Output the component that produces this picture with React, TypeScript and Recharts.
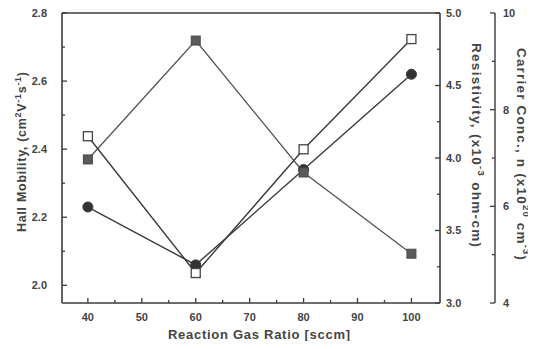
import React from 'react';
import { LineChart, Line, XAxis, YAxis, ReferenceLine } from 'recharts';

const gasRatio = [40, 60, 80, 100];
const hallMobility = [2.23, 2.06, 2.34, 2.62];
const resistivity = [3.99, 4.81, 3.9, 3.34];
const carrierConc = [7.45, 4.62, 7.18, 9.46];

const xTicks = [40, 45, 50, 55, 60, 65, 70, 75, 80, 85, 90, 95, 100];
const xLabels = [40, 50, 60, 70, 80, 90, 100];
const mobilityTicks = [2.0, 2.1, 2.2, 2.3, 2.4, 2.5, 2.6, 2.7, 2.8];
const mobilityLabels = [2.0, 2.2, 2.4, 2.6, 2.8];
const resistivityTicks = [3.0, 3.25, 3.5, 3.75, 4.0, 4.25, 4.5, 4.75, 5.0];
const resistivityLabels = [3.0, 3.5, 4.0, 4.5, 5.0];
const carrierTicks = [4, 5, 6, 7, 8, 9, 10];
const carrierLabels = [4, 6, 8, 10];

const data = gasRatio.map((x, i) => ({
  x,
  mobility: hallMobility[i],
  resistivity: resistivity[i],
  carrier: carrierConc[i],
}));

const INK = '#3c3c3c';
const TXT = '#444';
const FONT = '"Liberation Sans", Arial, sans-serif';
const X_MARGIN = 14;

const isIn = (arr: number[], v: number) => arr.some((a) => Math.abs(a - v) < 1e-6);

const makeYTick = (side: 'left' | 'right', margin: number, labels: number[], digits: number) => (props: any) => {
  const { x, y, payload } = props;
  const v = payload.value;
  const major = isIn(labels, v);
  const len = major ? 5 : 3;
  const axisX = side === 'left' ? x + margin : x - margin;
  const x2 = side === 'left' ? axisX + len : axisX - len;
  return (
    <g>
      <line x1={axisX} x2={x2} y1={y} y2={y} stroke={INK} strokeWidth={1.3} />
      {major && (
        <text x={x} y={y} dy="0.36em" textAnchor={side === 'left' ? 'end' : 'start'} fontSize={11} fontWeight="bold" fill={TXT} fontFamily={FONT}>
          {v.toFixed(digits)}
        </text>
      )}
    </g>
  );
};

const XTick = (props: any) => {
  const { x, y, payload } = props;
  const v = payload.value;
  const major = isIn(xLabels, v);
  const len = major ? 5 : 3;
  const axisY = y - X_MARGIN;
  return (
    <g>
      <line x1={x} x2={x} y1={axisY} y2={axisY - len} stroke={INK} strokeWidth={1.3} />
      {major && (
        <text x={x} y={y} dy="0.36em" textAnchor="middle" fontSize={11} fontWeight="bold" fill={TXT} fontFamily={FONT}>
          {v}
        </text>
      )}
    </g>
  );
};

const LeftTitle = (props: any) => {
  const vb = props.viewBox || { x: 0, y: 5, width: 54, height: 290 };
  const cx = vb.x + 14;
  const cy = vb.y + vb.height / 2 - 6;
  return (
    <text x={cx} y={cy} transform={`rotate(-90, ${cx}, ${cy})`} textAnchor="middle" dominantBaseline="central" fontSize={12.5} fontWeight="bold" fill={TXT} fontFamily={FONT} textLength={160} lengthAdjust="spacing">
      <tspan>Hall Mobility, (cm</tspan>
      <tspan dy={-4} fontSize={9}>2</tspan>
      <tspan dy={4}>V</tspan>
      <tspan dy={-4} fontSize={9}>-1</tspan>
      <tspan dy={4}>s</tspan>
      <tspan dy={-4} fontSize={9}>-1</tspan>
      <tspan dy={4}>)</tspan>
    </text>
  );
};

const ResTitle = (props: any) => {
  const vb = props.viewBox || { x: 432, y: 5, width: 55, height: 290 };
  const cx = vb.x + 37;
  const cy = vb.y + vb.height / 2 - 13;
  return (
    <text x={cx} y={cy} transform={`rotate(90, ${cx}, ${cy})`} textAnchor="middle" dominantBaseline="central" fontSize={13.5} fontWeight="bold" fill={TXT} fontFamily={FONT} textLength={204} lengthAdjust="spacing">
      <tspan>Resistivity, (x10</tspan>
      <tspan dy={-5} fontSize={9.5}>-3</tspan>
      <tspan dy={5}> ohm-cm)</tspan>
    </text>
  );
};

const CarrierTitle = (props: any) => {
  const vb = props.viewBox || { x: 487, y: 5, width: 33, height: 290 };
  const cx = vb.x + 27;
  const cy = vb.y + vb.height / 2 - 4;
  return (
    <text x={cx} y={cy} transform={`rotate(90, ${cx}, ${cy})`} textAnchor="middle" dominantBaseline="central" fontSize={13.5} fontWeight="bold" fill={TXT} fontFamily={FONT} textLength={212} lengthAdjust="spacing">
      <tspan>Carrier Conc., n (x10</tspan>
      <tspan dy={-5} fontSize={9.5}>20</tspan>
      <tspan dy={5}> cm</tspan>
      <tspan dy={-5} fontSize={9.5}>-3</tspan>
      <tspan dy={5}>)</tspan>
    </text>
  );
};

const XTitle = (props: any) => {
  const vb = props.viewBox || { x: 54, y: 295, width: 378, height: 46 };
  const cx = vb.x + vb.width / 2 + 8;
  const cy = vb.y + 31;
  return (
    <text x={cx} y={cy} textAnchor="middle" dominantBaseline="central" fontSize={13} fontWeight="bold" fill={TXT} fontFamily={FONT} textLength={182} lengthAdjust="spacing">
      Reaction Gas Ratio [sccm]
    </text>
  );
};

const CircleDot = (props: any) => {
  const { cx, cy } = props;
  if (cx == null || cy == null) return <g />;
  return <circle cx={cx} cy={cy} r={5} fill="#333" stroke="#333" strokeWidth={1} />;
};

const FilledSquare = (props: any) => {
  const { cx, cy } = props;
  if (cx == null || cy == null) return <g />;
  return <rect x={cx - 4.5} y={cy - 4.5} width={9} height={9} fill="#5a5a5a" stroke="#4a4a4a" strokeWidth={1} />;
};

const OpenSquare = (props: any) => {
  const { cx, cy } = props;
  if (cx == null || cy == null) return <g />;
  return <rect x={cx - 4.5} y={cy - 4.5} width={9} height={9} fill="#fff" stroke="#444" strokeWidth={1.3} />;
};

export default function App() {
  return (
    <div style={{ width: 520, height: 333, background: '#fff', overflow: 'visible' }}>
      <LineChart width={528} height={341} data={data} margin={{ top: 5, right: 8, bottom: 0, left: 0 }}>
        <XAxis
          dataKey="x"
          type="number"
          domain={[35.2, 105.3]}
          ticks={xTicks}
          interval={0}
          allowDataOverflow
          height={46}
          tickSize={0}
          tickMargin={X_MARGIN}
          tick={<XTick />}
          axisLine={{ stroke: INK, strokeWidth: 1.6 }}
          label={{ content: XTitle }}
        />
        <YAxis
          yAxisId="left"
          orientation="left"
          type="number"
          domain={[1.948, 2.8]}
          ticks={mobilityTicks}
          interval={0}
          allowDataOverflow
          width={54}
          tickSize={0}
          tickMargin={15}
          tick={makeYTick('left', 15, mobilityLabels, 1)}
          axisLine={{ stroke: INK, strokeWidth: 1.6 }}
          label={{ content: LeftTitle }}
        />
        <YAxis
          yAxisId="r1res"
          orientation="right"
          type="number"
          domain={[3, 5]}
          ticks={resistivityTicks}
          interval={0}
          allowDataOverflow
          width={55}
          tickSize={0}
          tickMargin={6}
          tick={makeYTick('right', 6, resistivityLabels, 1)}
          axisLine={{ stroke: INK, strokeWidth: 1.6 }}
          label={{ content: ResTitle }}
        />
        <YAxis
          yAxisId="r2carrier"
          orientation="right"
          type="number"
          domain={[4, 10]}
          ticks={carrierTicks}
          interval={0}
          allowDataOverflow
          width={33}
          tickSize={0}
          tickMargin={8}
          tick={makeYTick('right', 8, carrierLabels, 0)}
          axisLine={{ stroke: INK, strokeWidth: 1.4 }}
          label={{ content: CarrierTitle }}
        />
        <ReferenceLine yAxisId="left" y={2.8} stroke={INK} strokeWidth={1.6} ifOverflow="extendDomain" />
        <Line yAxisId="left" dataKey="mobility" stroke="#3a3a3a" strokeWidth={1.4} dot={<CircleDot />} isAnimationActive={false} />
        <Line yAxisId="r1res" dataKey="resistivity" stroke="#555" strokeWidth={1.3} dot={<FilledSquare />} isAnimationActive={false} />
        <Line yAxisId="r2carrier" dataKey="carrier" stroke="#3a3a3a" strokeWidth={1.4} dot={<OpenSquare />} isAnimationActive={false} />
      </LineChart>
    </div>
  );
}
